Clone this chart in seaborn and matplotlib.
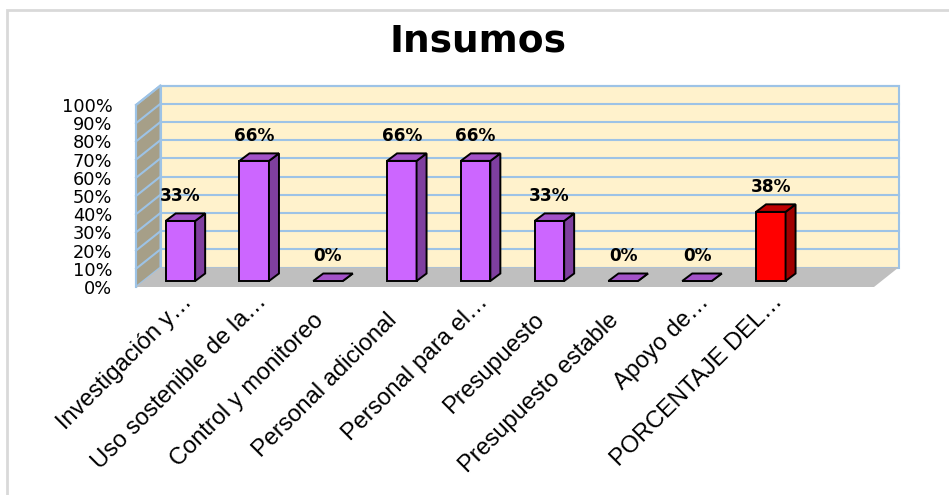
import numpy as np
import pandas as pd
import seaborn as sns
import matplotlib.pyplot as plt
from matplotlib.patches import Polygon, Rectangle
from matplotlib.transforms import ScaledTranslation

categorias = ["Investigación y…", "Uso sostenible de la…", "Control y monitoreo",
              "Personal adicional", "Personal para el…", "Presupuesto",
              "Presupuesto estable", "Apoyo de…", "PORCENTAJE DEL…"]
valores = [33, 66, 0, 66, 66, 33, 0, 0, 38]
colores = ["#CC66FF"] * 8 + ["#FF0000"]
lados = ["#7F3F9F"] * 8 + ["#A00000"]
techos = ["#A352C8"] * 8 + ["#C00000"]
yticks = list(range(0, 101, 10))

df = pd.DataFrame({"cat": categorias, "val": valores})

fig = plt.figure(figsize=(9.49, 4.95), dpi=100)
ax = fig.add_axes([136 / 949, (495 - 287) / 495, 738 / 949, 182 / 495])

sns.barplot(data=df, x="cat", y="val", hue="cat", palette=colores, legend=False,
            saturation=1, width=0.4, edgecolor="black", linewidth=1.4, ax=ax, zorder=4)
bars = list(ax.patches)

L, R = -0.5, 9.5
ax.set_xlim(L, R)
ax.set_ylim(0, 100)

# profundidad de las paredes y de las barras (en unidades de datos)
px_x = 738 / 10
px_y = 182 / 100
dx, dy = 24.5 / px_x, 19.5 / px_y
bdx, bdy = 10 / px_x, 7.5 / px_y
shift = ax.transData + ScaledTranslation(0.075, 0.06, fig.dpi_scale_trans)

wall = "#FFF2CC"
grid = "#9DC3E6"
ax.add_patch(Polygon([(L + dx, dy), (R + dx, dy), (R + dx, 100 + dy), (L + dx, 100 + dy)],
                     fc=wall, ec=grid, lw=1.5, clip_on=False, zorder=1))
ax.add_patch(Polygon([(L, 0), (L + dx, dy), (L + dx, 100 + dy), (L, 100)],
                     fc="#A69F88", ec=grid, lw=1.5, clip_on=False, zorder=1))
for v in yticks[1:]:
    ax.plot([L + dx, R + dx], [v + dy, v + dy], color=grid, lw=1.5, clip_on=False, zorder=1.5)
    ax.plot([L, L + dx], [v, v + dy], color=grid, lw=1.5, clip_on=False, zorder=1.5)
ax.add_patch(Polygon([(L, 0), (R, 0), (R + dx, dy), (L + dx, dy)],
                     fc="#BFBFBF", ec="none", clip_on=False, zorder=2))
ax.plot([L, L], [0, 100], color=grid, lw=1.5, clip_on=False, zorder=2)

for i, b in enumerate(bars):
    b.set_transform(shift)
    b.set_clip_on(False)
    x0 = b.get_x()
    x1 = x0 + b.get_width()
    h = b.get_height()
    ax.add_patch(Polygon([(x1, 0), (x1 + bdx, bdy), (x1 + bdx, h + bdy), (x1, h)],
                         fc=lados[i], ec="black", lw=1.4, transform=shift, clip_on=False, zorder=4))
    ax.add_patch(Polygon([(x0, h), (x1, h), (x1 + bdx, h + bdy), (x0 + bdx, h + bdy)],
                         fc=techos[i], ec="black", lw=1.4, transform=shift, clip_on=False, zorder=4))
    ax.text(i, valores[i] + 13.5, f"{valores[i]}%", transform=shift, ha="center", va="center",
            fontsize=12.2, fontweight="bold", family="DejaVu Sans", zorder=5)

for s in ax.spines.values():
    s.set_visible(False)
ax.set_facecolor("none")
ax.set_xlabel("")
ax.set_ylabel("")
ax.set_yticks(yticks)
ax.set_yticklabels([f"{v}%" for v in yticks], fontsize=12.8, family="DejaVu Sans")
ax.tick_params(axis="y", length=0, pad=17)
ax.set_xticks(range(len(categorias)))
ax.set_xticklabels(categorias, rotation=45, ha="right", va="baseline",
                   rotation_mode="anchor", fontsize=17, family="Liberation Sans")
ax.tick_params(axis="x", length=0, pad=0)
for lab in ax.get_xticklabels():
    # las etiquetas recortadas (…) quedan algo más arriba, como en Excel
    if lab.get_text().endswith("…"):
        off = ScaledTranslation(0.205, -0.16, fig.dpi_scale_trans)
    else:
        off = ScaledTranslation(0.035, -0.34, fig.dpi_scale_trans)
    lab.set_transform(lab.get_transform() + off)

fig.text(478 / 949, 1 - 42 / 495, "Insumos", ha="center", va="center",
         fontsize=27, fontweight="bold", family="DejaVu Sans")
fig.patches.append(Rectangle((7 / 949, -0.1), 1.2, 1.1 - 10 / 495, transform=fig.transFigure,
                             fill=False, ec="#D9D9D9", lw=2))

fig.savefig("out.png", dpi=100)
